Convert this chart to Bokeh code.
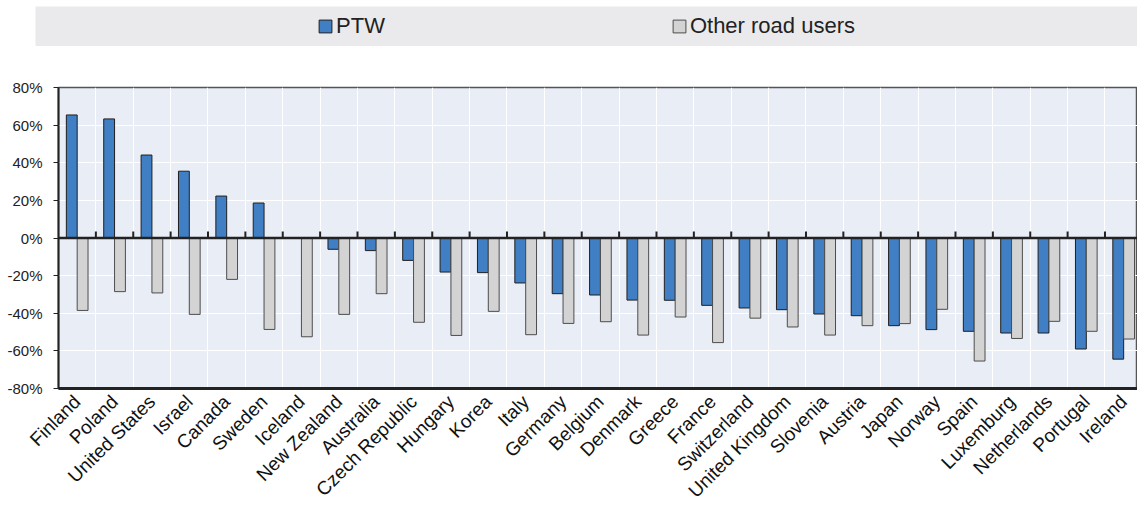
from bokeh.plotting import figure
from bokeh.layouts import column
from bokeh.models import (ColumnDataSource, Range1d, FixedTicker, PrintfTickFormatter,
                          Span, Legend, LegendItem)
from bokeh.transform import dodge
from bokeh.embed import file_html
from bokeh.resources import INLINE
import math

countries = ["Finland", "Poland", "United States", "Israel", "Canada", "Sweden", "Iceland",
             "New Zealand", "Australia", "Czech Republic", "Hungary", "Korea", "Italy",
             "Germany", "Belgium", "Denmark", "Greece", "France", "Switzerland",
             "United Kingdom", "Slovenia", "Austria", "Japan", "Norway", "Spain",
             "Luxemburg", "Netherlands", "Portugal", "Ireland"]
ptw = [65.4, 63.3, 44.1, 35.5, 22.3, 18.6, 0.0, -6.0, -6.7, -11.9, -18.1, -18.4, -23.9,
       -29.6, -30.3, -33.0, -33.1, -35.8, -37.2, -38.1, -40.4, -41.3, -46.6, -48.7, -49.6,
       -50.5, -50.5, -59.0, -64.4]
other = [-38.5, -28.5, -29.2, -40.6, -22.0, -48.6, -52.5, -40.6, -29.6, -44.8, -51.8, -39.0,
         -51.4, -45.4, -44.5, -51.6, -42.0, -55.6, -42.6, -47.3, -51.6, -46.6, -45.5, -37.9,
         -65.4, -53.4, -44.3, -49.6, -53.7]
y_ticks = [-80, -60, -40, -20, 0, 20, 40, 60, 80]

BLUE = "#417fc5"
GREY = "#d3d3d3"
FONT = "Liberation Sans"

n = len(countries)
idx = list(range(n))
boundaries = [i + 0.5 for i in range(n - 1)]

src = ColumnDataSource(dict(x=idx, ptw=ptw, other=other))

# ---- legend band -----
lg = figure(width=1137, height=46, output_backend="svg", toolbar_location=None,
            x_range=Range1d(0, 1), y_range=Range1d(0, 1),
            x_axis_location=None, y_axis_location=None,
            min_border_left=35, min_border_right=0, min_border_top=6, min_border_bottom=0)
lg.frame_align = False
lg.grid.visible = False
lg.outline_line_color = None
lg.background_fill_color = "#eaeaec"
lg.border_fill_color = "white"
# legend proxies (kept outside the visible range)
proxy = ColumnDataSource(dict(x=[5], top=[5]))
r1 = lg.vbar(x="x", top="top", width=0.1, source=proxy, fill_color=BLUE, line_color="#1f1f1f", line_width=1)
r2 = lg.vbar(x="x", top="top", width=0.1, source=proxy, fill_color=GREY, line_color="#4d4d4d", line_width=1)
legend = Legend(items=[LegendItem(label="PTW", renderers=[r1]),
                       LegendItem(label="Other road users", renderers=[r2])],
                orientation="horizontal", location="center",
                glyph_width=16, glyph_height=16, label_standoff=3, spacing=286,
                padding=0, margin=0, border_line_color=None,
                background_fill_alpha=0, label_text_font=FONT,
                label_text_font_size="22px", label_text_color="#222222")
lg.add_layout(legend, "center")

# ---- main chart -----
p = figure(width=1137, height=465, output_backend="svg", toolbar_location=None,
           x_range=Range1d(-0.5, 28.37), y_range=Range1d(-80, 80),
           min_border_left=58, min_border_right=0, min_border_top=41, min_border_bottom=122)
p.frame_align = False
p.background_fill_color = "#e9edf6"
p.border_fill_color = "white"
p.outline_line_color = "#555555"
p.outline_line_width = 1.5

p.vbar(x=dodge("x", -0.145), top="ptw", width=0.29, source=src,
       fill_color=BLUE, line_color="#1f1f1f", line_width=1)
p.vbar(x=dodge("x", 0.145), top="other", width=0.29, source=src,
       fill_color=GREY, line_color="#4d4d4d", line_width=1)

p.add_layout(Span(location=0, dimension="width", line_color="#222222", line_width=2.5))
p.segment(x0=boundaries, x1=boundaries, y0=[0] * len(boundaries), y1=[3.5] * len(boundaries),
          line_color="#222222", line_width=2)

p.xgrid.ticker = FixedTicker(ticks=boundaries)
p.xgrid.grid_line_color = "white"
p.xgrid.grid_line_width = 1
p.ygrid.ticker = FixedTicker(ticks=y_ticks)
p.ygrid.grid_line_color = "white"
p.ygrid.grid_line_width = 1

xa = p.xaxis[0]
xa.ticker = FixedTicker(ticks=idx)
xa.major_label_overrides = {i: c for i, c in zip(idx, countries)}
xa.major_label_orientation = math.pi / 4
xa.major_tick_line_color = None
xa.minor_tick_line_color = None
xa.axis_line_color = "#222222"
xa.axis_line_width = 3
xa.major_label_text_font = FONT
xa.major_label_text_font_size = "19px"
xa.major_label_text_color = "#111111"
xa.major_label_standoff = 4

ya = p.yaxis[0]
ya.ticker = FixedTicker(ticks=y_ticks)
ya.formatter = PrintfTickFormatter(format="%d%%")
ya.major_tick_out = 5
ya.major_tick_in = 0
ya.major_tick_line_color = "#222222"
ya.minor_tick_line_color = None
ya.axis_line_color = "#222222"
ya.axis_line_width = 2
ya.major_label_text_font = FONT
ya.major_label_text_font_size = "15px"
ya.major_label_text_color = "#222222"
ya.major_label_standoff = 11

layout = column(lg, p, spacing=0)
open("out.html", "w").write(file_html(layout, INLINE))
